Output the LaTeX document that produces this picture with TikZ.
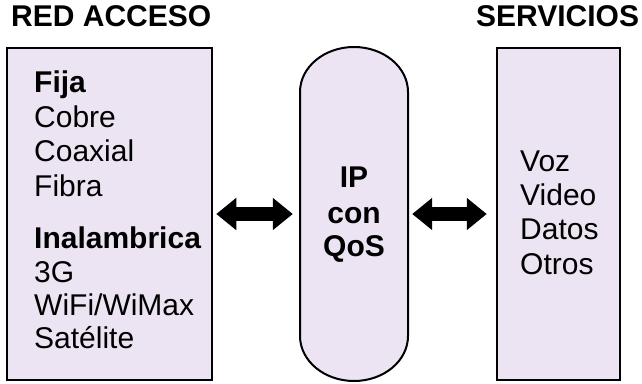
\documentclass[tikz,border=0pt]{standalone}
\usepackage{fontspec}
\setmainfont{Liberation Sans}
\usetikzlibrary{arrows.meta,positioning}
\definecolor{lila}{RGB}{236,228,242}

\begin{document}
\begin{tikzpicture}[x=1pt,y=1pt,
    caja/.style={draw, line width=2.5pt, fill=lila, minimum width=205pt, minimum height=332pt, inner sep=0pt},
    txt/.style={font=\fontsize{30}{34}\selectfont, anchor=base west, inner sep=0pt},
    flecha/.style={line width=14pt, {Triangle[width=31pt,length=20pt]}-{Triangle[width=31pt,length=20pt]}}
]
                    \useasboundingbox (0,0) rectangle (642,383);
                    % Labels
                    \node[txt] (red) at (11,356) {\textbf{RED ACCESO}};
                    \node[txt] (serv) at (476,356) {\textbf{SERVICIOS}};
                    % Boxes
                    \node[caja] (acceso) at (109.5,169) {};
                    \node[caja, minimum width=123pt] (servicios) at (558.5,169) {};
                    \draw[line width=2pt, fill=lila] (300,291) -- (300,47)
                        arc[start angle=180, end angle=360, x radius=54, y radius=45] -- (408,291)
                        arc[start angle=0, end angle=180, x radius=54, y radius=45] -- cycle;
                    \node[minimum width=108pt, minimum height=334pt, inner sep=0pt] (core) at (354,169) {};
                    % Elements
                    \node[txt] (fija) at (34,290) {\textbf{Fija}};
                    \node[txt] (cobre) at (34,255) {Cobre};
                    \node[txt] (coaxial) at (34,221) {Coaxial};
                    \node[txt] (fibra) at (34,186) {Fibra};
                    \node[txt] (inal) at (34,135) {\textbf{Inalambrica}};
                    \node[txt] (tresg) at (34,101) {3G};
                    \node[txt] (wifi) at (34,68) {WiFi/WiMax};
                    \node[txt] (sat) at (34,35) {Satélite};
                    % Elements
                    \node[txt, anchor=base] (ip) at (354,195) {\textbf{IP}};
                    \node[txt, anchor=base] (con) at (354,159) {\textbf{con}};
                    \node[txt, anchor=base] (qos) at (354,126) {\textbf{QoS}};
                    % Elements
                    \node[txt] (voz) at (520,211) {Voz};
                    \node[txt] (video) at (520,177) {Video};
                    \node[txt] (datos) at (520,143) {Datos};
                    \node[txt] (otros) at (520,109) {Otros};
                    % Arrows
                    \draw[flecha, shorten <=3pt, shorten >=7pt] (acceso.east) -- (core.west);
                    \draw[flecha, shorten <=4pt, shorten >=9pt] (core.east) -- (servicios.west);
                \end{tikzpicture}
\end{document}
